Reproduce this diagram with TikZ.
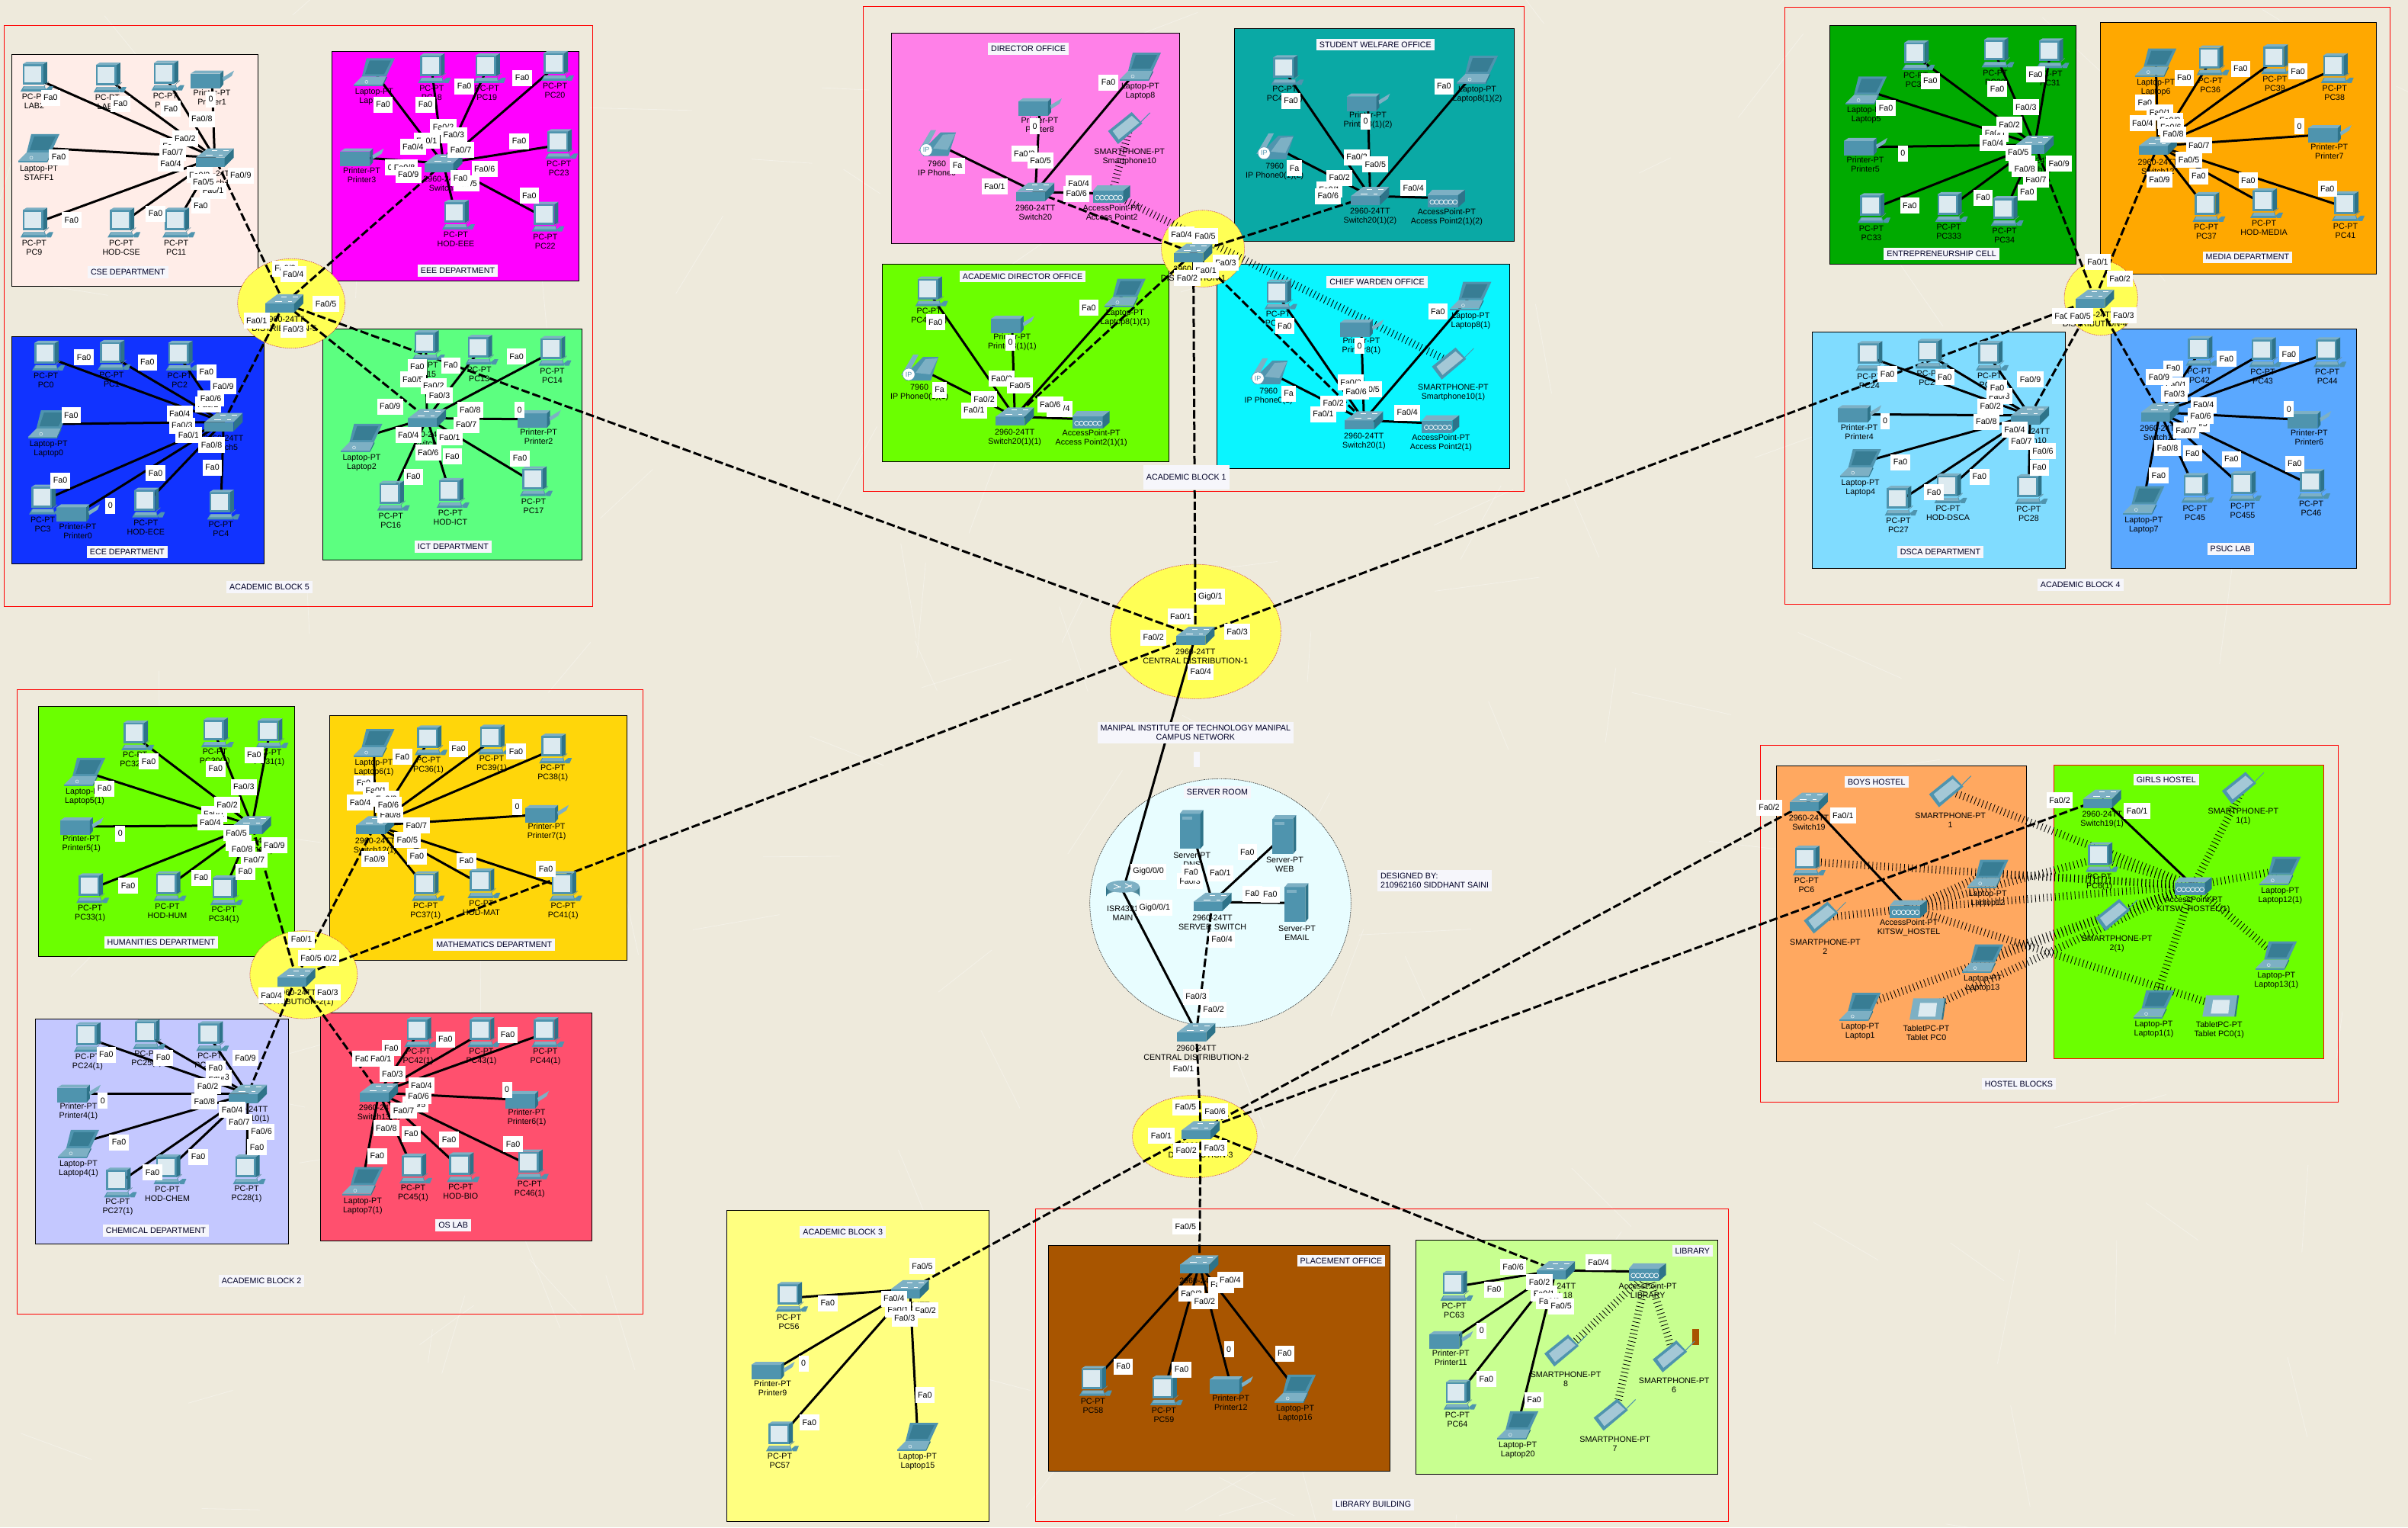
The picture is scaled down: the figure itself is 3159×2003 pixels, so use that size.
\documentclass[tikz,border=0pt]{standalone}
\usepackage{fontspec}
\setmainfont{Liberation Sans}
\definecolor{paper}{HTML}{EEEADC}
\definecolor{dmid}{HTML}{4F94AE}
\definecolor{dlight}{HTML}{7DB0C4}
\definecolor{ddark}{HTML}{2E7389}
\definecolor{dscreen}{HTML}{DCEAF0}
\definecolor{ttlbox}{HTML}{F6F6FB}
\definecolor{brownbar}{HTML}{A85500}
\tikzset{
 x=1pt,y=-1pt,
 devmid/.style={fill=dmid},devlight/.style={fill=dlight},devdark/.style={fill=ddark},devscr/.style={fill=dscreen},
 sollink/.style={line width=3pt,black},
 dashlink/.style={line width=3pt,black,dash pattern=on 11pt off 4pt},
 wifilink/.style={line width=10pt,black,dash pattern=on .8pt off 4.4pt},
 redgrp/.style={draw=red,line width=1pt},
 roombox/.style={line width=1pt},
 devlabel/.style={font=\fontsize{10.7}{12}\selectfont,align=center,inner sep=0pt,text=black},
 portbox/.style={fill=white,font=\fontsize{10.7}{12}\selectfont,inner xsep=3.5pt,inner ysep=0pt,minimum height=21pt,text=black},
 ttl/.style={fill=ttlbox,font=\fontsize{10.7}{12.5}\selectfont,align=center,inner xsep=4pt,inner ysep=4pt,text=black!85!blue},
 ovalline/.style={draw=purple,line width=.6pt,densely dotted},
}
\newcommand\setz[4]{\gdef\ozx{#1}\gdef\ozy{#2}\gdef\ofx{#3}\gdef\ofy{#4}}
\newcount\autoc
\newcommand\grp[4]{\ifnum\passno=1 \draw[redgrp] ({\ozx+(#1)/\ofx},{\ozy+(#2)/\ofy}) rectangle ({\ozx+(#3)/\ofx},{\ozy+(#4)/\ofy});\fi}
\newcommand\room[6][black]{\ifnum\passno=1 \definecolor{tmpc}{HTML}{#2}\draw[roombox,draw=#1,fill=tmpc] ({\ozx+(#3)/\ofx},{\ozy+(#4)/\ofy}) rectangle ({\ozx+(#5)/\ofx},{\ozy+(#6)/\ofy});\fi}
\newcommand\brownrect[4]{\ifnum\passno=1 \fill[brownbar] ({\ozx+(#1)/\ofx},{\ozy+(#2)/\ofy}) rectangle ({\ozx+(#3)/\ofx},{\ozy+(#4)/\ofy});\fi}
\newcommand\ovalz[6]{\ifnum\passno=1 \definecolor{tmpc}{HTML}{#2}\draw[#1,fill=tmpc] ({\ozx+((#3)+(#5))/2/\ofx},{\ozy+((#4)+(#6))/2/\ofy}) ellipse [x radius={((#5)-(#3))/2/\ofx},y radius={((#6)-(#4))/2/\ofy}];\fi}
\newcommand\ttlb[4][]{\ifnum\passno=4 \global\advance\autoc by 1 \node[ttl,#1] (t\the\autoc) at ({\ozx+(#2)/\ofx},{\ozy+(#3)/\ofy}) {#4};\fi}
\newcommand\prt[3]{\ifnum\passno=4 \global\advance\autoc by 1 \node[portbox] (p\the\autoc) at ({\ozx+(#1)/\ofx},{\ozy+(#2)/\ofy}) {#3};\fi}
\newcommand\pF[2]{\prt{#1}{#2}{Fa0}}
\newcommand\pN[3]{\prt{#1}{#2}{Fa0/#3}}
\newcommand\pZ[2]{\prt{#1}{#2}{0}}
% icons
\newcommand\iconsw{%
 \fill[devmid] (-25,0)--(13,0)--(13,12)--(-25,12)--cycle;
 \fill[devdark] (13,0)--(25,-12)--(25,0)--(13,12)--cycle;
 \fill[devlight] (-25,0)--(-9,-12)--(25,-12)--(13,0)--cycle;
 \draw[white,line width=.7pt] (-12,-3)--(-3,-3) (5,-3)--(10,-3) (-4,-9)--(3,-9) (11,-9)--(18,-9);}
\newcommand\iconpc{%
 \fill[devmid] (-15,-18) rectangle (12,9);
 \fill[devdark] (12,-18)--(17,-21)--(17,6)--(12,9)--cycle;
 \fill[devlight] (-15,-18)--(-10,-21)--(17,-21)--(12,-18)--cycle;
 \fill[devscr] (-12.5,-15.5) rectangle (9.5,6);
 \fill[devmid] (-18,18)--(-14,11)--(14,11)--(16,18)--cycle;
 \fill[devlight] (-15,15)--(-13,11)--(13,11)--(14,15)--cycle;
 \fill[devmid] (15,15)--(20,11)--(25,11)--(22,18)--(17,18)--cycle;
 \draw[dlight!80!black,line width=.7pt] (13,11) .. controls (15,7) and (18,8) .. (19,5);}
\newcommand\iconlap{%
 \fill[devmid] (-10,-18)--(27,-18)--(16,6)--(-16,6)--cycle;
 \fill[ddark!70!dmid] (-6,-15)--(22,-15)--(13,3)--(-12,3)--cycle;
 \fill[devlight] (-16,6)--(16,6)--(11,17)--(-27,17)--cycle;
 \fill[devdark] (16,6)--(17,7)--(11,19)--(11,17)--cycle;
 \fill[devmid] (-27,17)--(11,17)--(11,19)--(-27,19)--cycle;
 \draw[dscreen,line width=.6pt] (-10,13) circle (2);}
\newcommand\iconprn{%
 \fill[devmid] (-28,-8)--(11,-8)--(11,11)--(-28,11)--cycle;
 \fill[devlight] (-28,-8)--(-22,-12)--(15,-12)--(11,-8)--cycle;
 \fill[devdark] (11,-8)--(15,-12)--(15,6)--(11,11)--cycle;
 \fill[devlight] (14,-3)--(29,-12)--(26,-5)--(15,2)--cycle;}
\newcommand\iconsrv{%
 \fill[devmid] (-16,-21) rectangle (11,25);
 \fill[devlight] (-16,-21)--(-12,-26)--(15,-26)--(11,-21)--cycle;
 \fill[devdark] (11,-21)--(15,-26)--(15,20)--(11,25)--cycle;
 \fill[devlight] (-13,-17) rectangle (0,-13);}
\newcommand\iconrtr{%
 \shade[left color=ddark,right color=ddark,middle color=dscreen] (-22,-6) -- (-22,7) arc[start angle=180,end angle=360,x radius=22,y radius=7] -- (22,-6) -- cycle;
 \fill[devlight] (0,-6) ellipse [x radius=22,y radius=8];
 \draw[white,line width=.9pt] (-12,-9)--(-3,-5) (3,-10)--(12,-5) (-12,-3)--(-3,-6) (3,-4)--(12,-8);}
\newcommand\iconap{%
 \fill[devmid] (-25,-4)--(15,-4)--(15,12)--(-25,12)--cycle;
 \fill[devlight] (-25,-4)--(-19,-11)--(24,-11)--(15,-4)--cycle;
 \fill[devdark] (15,-4)--(24,-11)--(24,4)--(15,12)--cycle;
 \foreach \q in {-19,-13,-7,-1,5,11}{\draw[white,line width=.7pt] (\q,5) ellipse [x radius=3,y radius=3];}}
\newcommand\iconsp{%
 \fill[devmid] (3,-21)--(-28,4)--(-15,21)--(17,-6)--cycle;
 \fill[dlight!70!white] (3,-16)--(-22,4)--(-14,15)--(13,-7)--cycle;
 \draw[dmid,line width=1pt] (15,-8)--(27,-20);}
\newcommand\iconph{%
 \fill[devmid] (-18,8)--(5,-15)--(25,-15)--(15,16)--(-18,16)--cycle;
 \fill[devlight] (-5,6)--(8,-12)--(24,-13)--(14,8)--cycle;
 \fill[devlight] (-24,9)--(-8,-18)--(-1,-18)--(-16,10)--cycle;
 \fill[white] (-14,8) circle (8);\draw[dmid,line width=.5pt] (-14,8) circle (8);
 \node[font=\fontsize{9}{9}\selectfont,text=dmid,inner sep=0pt] at (-14,8) {IP};}
\newcommand\icontab{%
 \fill[devlight] (-22,14)--(-17,-14)--(24,-14)--(20,14)--cycle;
 \fill[devdark] (24,-14)--(26,-14)--(22,14)--(20,14)--cycle;
 \fill[devscr] (-11,10)--(-8,-8)--(14,-8)--(12,10)--cycle;}
\def\offsw{27}\def\offpc{31}\def\offlap{33}\def\offprn{23}\def\offsrv{39}\def\offrtr{29}\def\offap{25}\def\offsp{38}\def\offph{32}\def\offtab{31}
\newcommand\dev[5]{\ifnum\passno=1 \coordinate (#2) at ({\ozx+(#3)/\ofx},{\ozy+(#4)/\ofy});\fi
 \ifnum\passno=3 \begin{scope}[shift={(#2)}]\csname icon#1\endcsname
 \node[devlabel] (#2-l) at (0,\csname off#1\endcsname) {#5};\end{scope}\fi}
\newcommand\hub[2]{\ifnum\passno=2 \foreach \d in {#2}{\draw[sollink] (#1)--(\d);}\fi}
\newcommand\dhub[2]{\ifnum\passno=2 \foreach \d in {#2}{\draw[dashlink] (#1)--(\d);}\fi}
\newcommand\wifi[2]{\ifnum\passno=2 \foreach \d in {#2}{\draw[wifilink] (#1)--(\d);}\fi}
\newcommand\allcontent{%
% ================ BLOCK 5
\setz{0}{0}{1.96}{1.96}
\grp{10}{66}{1524}{1559}
\room{FFEDE8}{30}{140}{663}{736}
\room{FF00FF}{854}{132}{1489}{722}
\room{1133FF}{30}{865}{679}{1449}
\room{5CFF80}{830}{846}{1496}{1440}
\ovalz{ovalline}{FFFF55}{611}{665}{887}{895}
\ttlb{329}{700}{CSE DEPARTMENT}\ttlb{1177}{696}{EEE DEPARTMENT}\ttlb{327}{1419}{ECE DEPARTMENT}\ttlb{1165}{1405}{ICT DEPARTMENT}\ttlb{693}{1509}{ACADEMIC BLOCK 5}
\dev{sw}{dfive}{731}{780}{2960-24TT\\DISTRIBUTION-5}
\dev{sw}{csw}{552}{405}{2960-24TT\\Switch4}
\dev{pc}{lab2}{88}{200}{PC-PT\\LAB2}\dev{pc}{lab1}{276}{202}{PC-PT\\LAB1}\dev{pc}{lab3}{425}{197}{PC-PT\\PC10}
\dev{prn}{prn1}{545}{205}{Printer-PT\\Printer1}\dev{lap}{staff1}{100}{380}{Laptop-PT\\STAFF1}
\dev{pc}{pc9}{88}{575}{PC-PT\\PC9}\dev{pc}{hodcse}{312}{575}{PC-PT\\HOD-CSE}\dev{pc}{pc11}{453}{575}{PC-PT\\PC11}
\hub{csw}{lab2,lab1,lab3,prn1,staff1,pc9,hodcse,pc11}
\pF{130}{251}\pF{310}{267}\pF{439}{280}\pZ{542}{255}\pN{519}{306}{8}\pN{445}{375}{6}\pN{476}{356}{2}\pN{444}{392}{7}\pN{439}{420}{4}\pF{151}{404}\pN{513}{450}{3}\pN{548}{490}{1}\pN{523}{468}{5}\pN{619}{451}{9}\pF{516}{529}\pF{400}{549}\pF{184}{566}
\dev{sw}{esw}{1140}{420}{2960-24TT\\Switch3}
\dev{lap}{lap3}{962}{185}{Laptop-PT\\Laptop3}\dev{pc}{pc18}{1110}{178}{PC-PT\\PC18}\dev{pc}{pc19}{1252}{178}{PC-PT\\PC19}\dev{pc}{pc20}{1427}{172}{PC-PT\\PC20}
\dev{prn}{prn3}{930}{405}{Printer-PT\\Printer3}\dev{pc}{pc23}{1437}{373}{PC-PT\\PC23}\dev{pc}{pc22}{1402}{560}{PC-PT\\PC22}\dev{pc}{hodeee}{1172}{555}{PC-PT\\HOD-EEE}
\hub{esw}{lap3,pc18,pc19,pc20,prn3,pc23,pc22,hodeee}
\pF{985}{269}\pF{1094}{269}\pF{1194}{222}\pF{1343}{200}\pN{1140}{327}{2}\pN{1097}{362}{1}\pN{1167}{347}{3}\pN{1062}{378}{4}\pN{1185}{386}{7}\pF{1335}{363}\pN{1246}{435}{6}\pZ{1003}{430}\pN{1040}{430}{8}\pN{1050}{449}{9}\pN{1200}{472}{5}\pF{1184}{458}\pF{1361}{503}
\dev{sw}{csw5}{575}{1085}{2960-24TT\\Switch5}
\dev{pc}{pc0}{118}{917}{PC-PT\\PC0}\dev{pc}{pc1}{287}{915}{PC-PT\\PC1}\dev{pc}{pc2}{462}{917}{PC-PT\\PC2}\dev{lap}{lap0}{125}{1090}{Laptop-PT\\Laptop0}
\dev{pc}{pc3}{110}{1287}{PC-PT\\PC3}\dev{prn}{prn0}{200}{1320}{Printer-PT\\Printer0}\dev{pc}{hodece}{375}{1295}{PC-PT\\HOD-ECE}\dev{pc}{pc4}{568}{1300}{PC-PT\\PC4}
\hub{csw5}{pc0,pc1,pc2,lap0,pc3,prn0,hodece,pc4}
\pF{216}{919}\pF{379}{931}\pF{531}{957}\pN{574}{993}{9}\pN{535}{1040}{2}\pN{542}{1025}{6}\pN{462}{1063}{4}\pN{468}{1094}{3}\pF{183}{1068}\pN{485}{1118}{1}\pN{544}{1144}{8}\pF{546}{1202}\pF{400}{1217}\pF{155}{1235}\pZ{284}{1300}
\dev{sw}{isw}{1098}{1075}{2960-24TT\\Switch6}
\dev{pc}{pc15}{1095}{890}{PC-PT\\PC15}\dev{pc}{pc13}{1232}{902}{PC-PT\\PC13}\dev{pc}{pc14}{1420}{905}{PC-PT\\PC14}\dev{lap}{lap2}{930}{1125}{Laptop-PT\\Laptop2}
\dev{prn}{prn2}{1385}{1078}{Printer-PT\\Printer2}\dev{pc}{pc17}{1372}{1240}{PC-PT\\PC17}\dev{pc}{hodict}{1158}{1270}{PC-PT\\HOD-ICT}\dev{pc}{pc16}{1005}{1277}{PC-PT\\PC16}
\hub{isw}{pc15,pc13,pc14,lap2,prn2,pc17,hodict,pc16}
\pF{1073}{943}\pF{1159}{939}\pF{1328}{917}\pN{1062}{976}{5}\pN{1115}{992}{2}\pN{1130}{1017}{3}\pN{1003}{1045}{9}\pN{1209}{1053}{8}\pZ{1336}{1054}\pN{1199}{1092}{7}\pN{1050}{1119}{4}\pN{1156}{1125}{1}\pN{1101}{1164}{6}\pF{1163}{1174}\pF{1337}{1178}\pF{1063}{1225}
\dhub{dfive}{csw,esw,csw5,isw}
\pN{733}{690}{2}\pN{754}{705}{4}\pN{838}{781}{5}\pN{660}{824}{1}\pN{754}{847}{3}
% ================ BLOCK 1
\setz{1120}{0}{1.742}{2.412}
\grp{22}{20}{1532}{1555}
\room{FF80E8}{86}{105}{745}{771}
\room{0AA9A5}{870}{90}{1510}{764}
\room{6BFF00}{65}{836}{721}{1460}
\room{0AF5FF}{830}{836}{1499}{1482}
\ovalz{ovalline}{FFFF55}{703}{665}{893}{908}
\ttlb{399}{155}{DIRECTOR OFFICE}\ttlb{1192}{141}{STUDENT WELFARE OFFICE}\ttlb{386}{874}{ACADEMIC DIRECTOR OFFICE}\ttlb{1196}{893}{CHIEF WARDEN OFFICE}
\ttlb[inner ysep=12pt]{760}{1510}{ACADEMIC BLOCK 1}
\dev{sw}{done}{776}{800}{2960-24TT\\DISTRIBUTION-1}
\dev{sw}{dsw}{415}{607}{2960-24TT\\Switch20}\dev{ph}{dph}{190}{455}{7960\\IP Phone0}\dev{prn}{dprn}{425}{340}{Printer-PT\\Printer8}\dev{lap}{dlap}{655}{210}{Laptop-PT\\Laptop8}\dev{sp}{dsp}{630}{405}{SMARTPHONE-PT\\Smartphone10}\dev{ap}{dap}{590}{613}{AccessPoint-PT\\Access Point2}
\hub{dsw}{dph,dprn,dlap,dap}
\wifi{dap}{dsp}
\prt{237}{524}{Fa}\pN{322}{589}{1}\pN{390}{486}{2}\pN{427}{507}{5}\pZ{414}{399}\pN{514}{581}{4}\pN{509}{613}{6}\pF{582}{261}
\dev{sw}{wsw}{1180}{620}{2960-24TT\\Switch20(1)(2)}\dev{pc}{wpc}{985}{225}{PC-PT\\PC4(1)(2)}\dev{prn}{wprn}{1175}{325}{Printer-PT\\Printer8(1)(2)}\dev{lap}{wlap}{1425}{220}{Laptop-PT\\Laptop8(1)(2)}\dev{ph}{wph}{962}{465}{7960\\IP Phone0(1)(2)}\dev{ap}{wap}{1355}{627}{AccessPoint-PT\\Access Point2(1)(2)}
\hub{wsw}{wpc,wprn,wlap,wph,wap}
\pF{999}{319}\pZ{1170}{384}\pF{1349}{273}\pN{1150}{497}{3}\pN{1192}{519}{5}\prt{1007}{533}{Fa}\pN{1110}{562}{2}\pN{1087}{600}{1}\pN{1084}{620}{6}\pN{1279}{594}{4}
\dev{sw}{asw}{368}{1318}{2960-24TT\\Switch20(1)(1)}\dev{pc}{apc}{172}{925}{PC-PT\\PC4(1)(1)}\dev{prn}{aprn}{362}{1028}{Printer-PT\\Printer8(1)(1)}\dev{lap}{alap}{620}{925}{Laptop-PT\\Laptop8(1)(1)}\dev{ph}{aph}{150}{1165}{7960\\IP Phone0(1)(1)}\dev{ap}{aap}{543}{1327}{AccessPoint-PT\\Access Point2(1)(1)}
\hub{asw}{apc,aprn,alap,aph,aap}
\pF{187}{1019}\pZ{358}{1083}\pF{537}{973}\pN{338}{1197}{3}\pN{380}{1219}{5}\prt{196}{1233}{Fa}\pN{298}{1262}{2}\pN{275}{1298}{1}\pN{470}{1293}{4}\pN{449}{1279}{6}
\dev{sw}{hsw}{1166}{1330}{2960-24TT\\Switch20(1)}\dev{pc}{hpc}{970}{935}{PC-PT\\PC4(1)}\dev{prn}{hprn}{1160}{1040}{Printer-PT\\Printer8(1)}\dev{lap}{hlap}{1410}{935}{Laptop-PT\\Laptop8(1)}\dev{ph}{hph}{948}{1177}{7960\\IP Phone0(1)}\dev{ap}{hap}{1342}{1340}{AccessPoint-PT\\Access Point2(1)}\dev{sp}{hsp}{1370}{1150}{SMARTPHONE-PT\\Smartphone10(1)}
\hub{hsw}{hpc,hprn,hlap,hph,hap}
\wifi{dap}{hsp}
\pF{985}{1031}\pZ{1156}{1095}\pF{1335}{985}\pN{1136}{1209}{3}\pN{1178}{1231}{5}\pN{1148}{1238}{6}\prt{994}{1245}{Fa}\pN{1096}{1276}{2}\pN{1073}{1310}{1}\pN{1265}{1305}{4}
\dhub{done}{dsw,wsw,asw,hsw}
\pN{749}{741}{4}\pN{803}{746}{5}\pN{850}{832}{3}\pN{805}{856}{1}\pN{762}{880}{2}
% ================ CENTRE
\setz{1380}{720}{2.613}{2.24}
\ovalz{ovalline}{FFFF55}{200}{45}{785}{440}
\ovalz{draw=black,line width=.7pt,densely dotted}{E8FDFF}{130}{675}{1025}{1405}
\dev{sw}{cone}{492}{255}{2960-24TT\\CENTRAL DISTRIBUTION-1}
\dev{srv}{dns}{480}{825}{Server-PT\\DNS}\dev{srv}{web}{798}{840}{Server-PT\\WEB}\dev{srv}{email}{840}{1040}{Server-PT\\EMAIL}
\dev{rtr}{rmain}{243}{1005}{ISR4331\\MAIN}\dev{sw}{ssw}{550}{1037}{2960-24TT\\SERVER SWITCH}\dev{sw}{ctwo}{495}{1420}{2960-24TT\\CENTRAL DISTRIBUTION-2}
\hub{rmain}{cone,ctwo}\hub{ssw}{dns,web,email}\dhub{ssw}{ctwo}\dhub{cone}{done,dfive}
\ttlb{492}{539}{MANIPAL INSTITUTE OF TECHNOLOGY MANIPAL\\CAMPUS NETWORK}
\ttlb{567}{715}{SERVER ROOM}
\ttlb[minimum width=8pt,minimum height=20pt,inner sep=0pt]{496}{619}{}
\ttlb[align=left]{1312}{974}{DESIGNED BY:\\210962160 SIDDHANT SAINI}
\prt{543}{141}{Gig0/1}\pN{441}{199}{1}\pN{348}{260}{2}\pN{635}{244}{3}\pN{510}{361}{4}
\prt{331}{948}{Gig0/0/0}\prt{352}{1055}{Gig0/0/1}\pN{473}{975}{3}\pF{477}{950}\pN{577}{952}{1}\pF{670}{890}\pF{687}{1013}\pF{748}{1015}\pN{583}{1147}{4}\pN{494}{1315}{3}\pN{554}{1353}{2}\pN{451}{1528}{1}
% ================ BOTTOM
\setz{930}{1400}{1.161}{2.613}
\ovalz{ovalline}{FFFF55}{645}{95}{835}{378}
\grp{497}{485}{1553}{1556}
\room{FFFF80}{27}{490}{427}{1556}
\room{A85500}{517}{610}{1037}{1383}
\room{C8FF90}{1077}{592}{1536}{1393}
\brownrect{1498}{895}{1508}{950}
\ttlb{204}{565}{ACADEMIC BLOCK 3}\ttlb{963}{662}{PLACEMENT OFFICE}\ttlb{1498}{628}{LIBRARY}\ttlb{1012}{1498}{LIBRARY BUILDING}
\dev{sw}{dthree}{749}{215}{2960-24TT\\DISTRIBUTION-3}
\dev{sw}{bsw}{306}{760}{2960-24TT\\Switch17}\dev{pc}{pc56}{122}{790}{PC-PT\\PC56}\dev{prn}{prn9}{97}{1040}{Printer-PT\\Printer9}\dev{pc}{pc57}{108}{1268}{PC-PT\\PC57}\dev{lap}{lap15}{318}{1265}{Laptop-PT\\Laptop15}
\hub{bsw}{pc56,prn9,pc57,lap15}
\pN{325}{680}{5}\pF{181}{808}\pN{288}{830}{1}\pN{282}{792}{4}\pN{330}{832}{2}\pN{298}{860}{3}\pZ{144}{1014}\pF{329}{1122}\pF{153}{1216}
\dev{sw}{psw}{747}{675}{2960-24TT\\Switch16}\dev{pc}{pc58}{585}{1078}{PC-PT\\PC58}\dev{pc}{pc59}{693}{1110}{PC-PT\\PC59}\dev{prn}{prn12}{795}{1090}{Printer-PT\\Printer12}\dev{lap}{lap16}{893}{1100}{Laptop-PT\\Laptop16}
\hub{psw}{pc58,pc59,prn12,lap16}
\pN{726}{544}{5}\pN{780}{745}{1}\pN{794}{727}{4}\pN{735}{775}{3}\pN{755}{800}{2}\pZ{792}{965}\pF{877}{980}\pF{631}{1025}\pF{720}{1035}
\dev{sw}{lsw}{1290}{695}{2960-24TT\\Switch18}\dev{pc}{pc63}{1135}{752}{PC-PT\\PC63}\dev{prn}{prn11}{1130}{935}{Printer-PT\\Printer11}\dev{pc}{pc64}{1140}{1125}{PC-PT\\PC64}\dev{lap}{lap20}{1232}{1225}{Laptop-PT\\Laptop20}
\dev{ap}{libap}{1430}{700}{AccessPoint-PT\\LIBRARY}\dev{sp}{sp8}{1305}{970}{SMARTPHONE-PT\\8}\dev{sp}{sp6}{1470}{990}{SMARTPHONE-PT\\6}\dev{sp}{sp7}{1380}{1190}{SMARTPHONE-PT\\7}
\hub{lsw}{pc63,prn11,pc64,lap20,libap}
\wifi{libap}{sp8,sp6,sp7}
\pN{1225}{683}{6}\pN{1355}{667}{4}\pN{1272}{775}{1}\pN{1265}{735}{2}\pN{1280}{800}{3}\pN{1298}{818}{5}\pF{1196}{761}\pZ{1177}{902}\pF{1184}{1068}\pF{1257}{1140}
\dhub{ctwo}{dthree}\dhub{dthree}{bsw,psw,lsw}
\pN{726}{136}{5}\pN{771}{150}{6}\pN{689}{233}{1}\pN{727}{285}{2}\pN{770}{275}{3}
% ================ HOSTELS
\setz{2300}{960}{1.96}{3.0}
\grp{18}{52}{1504}{1456}
\room{FFA860}{60}{133}{703}{1297}
\room[red]{6BFF00}{773}{130}{1467}{1285}
\ttlb{317}{196}{BOYS HOSTEL}\ttlb{1062}{187}{GIRLS HOSTEL}\ttlb{683}{1384}{HOSTEL BLOCKS}
\dev{sw}{bhs}{143}{275}{2960-24TT\\Switch19}\dev{sp}{bsp1}{507}{233}{SMARTPHONE-PT\\1}\dev{pc}{bpc6}{137}{510}{PC-PT\\PC6}\dev{lap}{bl12}{603}{557}{Laptop-PT\\Laptop12}\dev{ap}{bap}{400}{695}{AccessPoint-PT\\KITSW\_HOSTEL}\dev{sp}{bsp2}{185}{730}{SMARTPHONE-PT\\2}\dev{lap}{bl13}{590}{890}{Laptop-PT\\Laptop13}\dev{lap}{bl1}{275}{1080}{Laptop-PT\\Laptop1}\dev{tab}{btab}{445}{1090}{TabletPC-PT\\Tablet PC0}
\dev{sw}{ghs}{897}{263}{2960-24TT\\Switch19(1)}\dev{sp}{gsp1}{1260}{220}{SMARTPHONE-PT\\1(1)}\dev{pc}{gpc6}{890}{497}{PC-PT\\PC6(1)}\dev{ap}{gap}{1132}{605}{AccessPoint-PT\\KITSW\_HOSTEL(1)}\dev{lap}{gl12}{1355}{545}{Laptop-PT\\Laptop12(1)}\dev{sp}{gsp2}{935}{720}{SMARTPHONE-PT\\2(1)}\dev{lap}{gl13}{1345}{878}{Laptop-PT\\Laptop13(1)}\dev{lap}{gl1}{1030}{1070}{Laptop-PT\\Laptop1(1)}\dev{tab}{gtab}{1198}{1078}{TabletPC-PT\\Tablet PC0(1)}
\hub{bhs}{bap}\hub{ghs}{gap}
\wifi{gap}{bpc6,bl12,bsp1,bl13,bl1,btab,gpc6,gl12,gsp1,gsp2,gl13,gl1}
\wifi{bap}{bsp2,gpc6,gtab,gap,bl12}
\dhub{dthree}{bhs,ghs}
\pN{41}{297}{2}\pN{231}{328}{1}\pN{788}{268}{2}\pN{987}{310}{1}
% ================ BLOCK 4
\setz{2320}{0}{1.889}{1.96}
\grp{40}{19}{1541}{1554}
\room{00AA00}{152}{66}{762}{679}
\room{FFA800}{823}{58}{1507}{705}
\room{80DCFF}{109}{854}{736}{1461}
\room{5AA8FF}{849}{846}{1457}{1461}
\ovalz{ovalline}{FFFF55}{733}{670}{915}{862}
\ttlb{429}{653}{ENTREPRENEURSHIP CELL}\ttlb{1187}{661}{MEDIA DEPARTMENT}\ttlb{426}{1419}{DSCA DEPARTMENT}\ttlb{1145}{1411}{PSUC LAB}\ttlb{773}{1503}{ACADEMIC BLOCK 4}
\dev{sw}{dfour}{809}{768}{2960-24TT\\DISTRIBUTION-4}
\dev{sw}{nsw}{660}{372}{2960-24TT\\Switch11}\dev{pc}{pc32}{365}{145}{PC-PT\\PC32}\dev{pc}{pc30}{562}{138}{PC-PT\\PC30}\dev{pc}{pc31}{698}{140}{PC-PT\\PC31}\dev{lap}{lap5}{242}{232}{Laptop-PT\\Laptop5}\dev{prn}{prn5}{240}{378}{Printer-PT\\Printer5}\dev{pc}{pc33}{255}{538}{PC-PT\\PC33}\dev{pc}{pc333}{447}{535}{PC-PT\\PC333}\dev{pc}{pc34}{585}{545}{PC-PT\\PC34}
\hub{nsw}{pc32,pc30,pc31,lap5,prn5,pc33,pc333,pc34}
\pF{401}{208}\pF{567}{228}\pF{662}{192}\pF{291}{278}\pN{638}{275}{3}\pN{562}{343}{1}\pN{597}{320}{2}\pN{556}{367}{4}\pZ{333}{394}\pN{628}{420}{6}\pN{619}{392}{5}\pN{720}{420}{9}\pN{663}{461}{7}\pN{635}{435}{8}\pF{641}{494}\pF{532}{508}\pF{350}{529}
\dev{sw}{msw}{965}{375}{2960-24TT\\Switch12}\dev{lap}{lap6}{960}{160}{Laptop-PT\\Laptop6}\dev{pc}{pc36}{1095}{158}{PC-PT\\PC36}\dev{pc}{pc39}{1255}{155}{PC-PT\\PC39}\dev{pc}{pc38}{1403}{178}{PC-PT\\PC38}\dev{prn}{prn7}{1390}{345}{Printer-PT\\Printer7}\dev{pc}{pc37}{1085}{535}{PC-PT\\PC37}\dev{pc}{hodmed}{1228}{525}{PC-PT\\HOD-MEDIA}\dev{pc}{pc41}{1430}{533}{PC-PT\\PC41}
\hub{msw}{lap6,pc36,pc39,pc38,prn7,pc37,hodmed,pc41}
\pF{1030}{200}\pF{1170}{177}\pF{1312}{184}\pF{933}{264}\pN{970}{290}{1}\pN{995}{310}{2}\pN{927}{316}{4}\pN{997}{327}{6}\pN{1003}{345}{8}\pZ{1316}{325}\pN{1067}{374}{7}\pN{1042}{411}{5}\pN{969}{462}{9}\pF{1066}{453}\pF{1189}{464}\pF{1385}{486}
\dev{sw}{ssw4}{648}{1068}{2960-24TT\\Switch10}\dev{pc}{pc24}{250}{918}{PC-PT\\PC24}\dev{pc}{pc25}{398}{912}{PC-PT\\PC25}\dev{pc}{pc26}{548}{917}{PC-PT\\PC26}\dev{prn}{prn4}{225}{1065}{Printer-PT\\Printer4}\dev{lap}{lap4}{228}{1190}{Laptop-PT\\Laptop4}\dev{pc}{pc27}{322}{1290}{PC-PT\\PC27}\dev{pc}{hoddsca}{445}{1258}{PC-PT\\HOD-DSCA}\dev{pc}{pc28}{645}{1260}{PC-PT\\PC28}
\hub{ssw4}{pc24,pc25,pc26,prn4,lap4,pc27,hoddsca,pc28}
\pF{295}{962}\pF{437}{970}\pN{649}{976}{9}\pN{572}{1019}{3}\pF{567}{997}\pN{550}{1045}{2}\pN{540}{1084}{8}\pZ{289}{1082}\pN{610}{1105}{4}\pN{627}{1135}{7}\pN{680}{1160}{6}\pF{671}{1202}\pF{327}{1188}\pF{523}{1225}\pF{410}{1266}
\dev{sw}{usw}{970}{1060}{2960-24TT\\Switch13}\dev{pc}{pc42}{1068}{905}{PC-PT\\PC42}\dev{pc}{pc43}{1225}{908}{PC-PT\\PC43}\dev{pc}{pc44}{1385}{908}{PC-PT\\PC44}\dev{prn}{prn6}{1340}{1080}{Printer-PT\\Printer6}\dev{pc}{pc46}{1345}{1247}{PC-PT\\PC46}\dev{pc}{pc455}{1175}{1252}{PC-PT\\PC455}\dev{pc}{pc45}{1057}{1257}{PC-PT\\PC45}\dev{lap}{lap7}{930}{1285}{Laptop-PT\\Laptop7}
\hub{usw}{pc42,pc43,pc44,prn6,pc46,pc455,pc45,lap7}
\pF{1003}{947}\pF{1135}{923}\pF{1290}{911}\pN{1010}{990}{1}\pN{968}{970}{9}\pN{1006}{1012}{3}\pN{1078}{1041}{4}\pN{1062}{1090}{5}\pN{1071}{1070}{6}\pZ{1290}{1052}\pN{1035}{1107}{7}\pN{989}{1152}{8}\pF{1051}{1166}\pF{1147}{1180}\pF{1304}{1192}\pF{967}{1223}
\dhub{dfour}{nsw,msw,ssw4,usw,cone}
\pN{816}{674}{1}\pN{871}{716}{2}\pN{735}{812}{4}\pN{773}{813}{5}\pN{880}{811}{3}
% ================ BLOCK 2
\setz{0}{890}{1.845}{1.845}
\grp{42}{26}{1556}{1537}
\room{6BFF00}{93}{67}{713}{673}
\room{FFD60A}{798}{90}{1517}{682}
\room{C4C8FF}{86}{824}{698}{1368}
\room{FF506E}{776}{809}{1432}{1360}
\ovalz{ovalline}{FFFF55}{605}{610}{865}{823}
\ttlb{390}{638}{HUMANITIES DEPARTMENT}\ttlb{1196}{644}{MATHEMATICS DEPARTMENT}\ttlb{377}{1336}{CHEMICAL DEPARTMENT}\ttlb{1097}{1323}{OS LAB}\ttlb{633}{1458}{ACADEMIC BLOCK 2}
\dev{sw}{dtwo}{717}{723}{2960-24TT\\DISTRIBUTION-2(1)}
\dev{sw}{qsw}{610}{355}{2960-24TT\\Switch11(1)}\dev{pc}{qa}{327}{140}{PC-PT\\PC32(1)}\dev{pc}{qb}{520}{133}{PC-PT\\PC30(1)}\dev{pc}{qc}{652}{135}{PC-PT\\PC31(1)}\dev{lap}{qd}{205}{225}{Laptop-PT\\Laptop5(1)}\dev{prn}{qe}{197}{358}{Printer-PT\\Printer5(1)}\dev{pc}{qf}{218}{510}{PC-PT\\PC33(1)}\dev{pc}{qg}{405}{505}{PC-PT\\HOD-HUM}\dev{pc}{qh}{542}{515}{PC-PT\\PC34(1)}
\hub{qsw}{qa,qb,qc,qd,qe,qf,qg,qh}
\pF{360}{200}\pF{522}{218}\pF{615}{185}\pF{253}{266}\pN{590}{262}{3}\pN{518}{327}{1}\pN{550}{305}{2}\pN{509}{348}{4}\pZ{291}{375}\pN{578}{398}{6}\pN{572}{373}{5}\pN{664}{403}{9}\pN{615}{438}{7}\pN{586}{413}{8}\pF{594}{467}\pF{487}{482}\pF{310}{501}
\dev{sw}{rsw}{908}{355}{2960-24TT\\Switch12(1)}\dev{lap}{ra}{905}{155}{Laptop-PT\\Laptop6(1)}\dev{pc}{rb}{1037}{152}{PC-PT\\PC36(1)}\dev{pc}{rc}{1190}{150}{PC-PT\\PC39(1)}\dev{pc}{rd}{1338}{172}{PC-PT\\PC38(1)}\dev{prn}{re}{1323}{328}{Printer-PT\\Printer7(1)}\dev{pc}{rf}{1030}{505}{PC-PT\\PC37(1)}\dev{pc}{rg}{1165}{498}{PC-PT\\HOD-MAT}\dev{pc}{rh}{1363}{505}{PC-PT\\PC41(1)}
\hub{rsw}{ra,rb,rc,rd,re,rf,rg,rh}
\pF{974}{190}\pF{1110}{170}\pF{1249}{177}\pF{880}{253}\pN{910}{270}{1}\pN{935}{290}{2}\pN{872}{300}{4}\pN{945}{330}{8}\pN{940}{306}{6}\pZ{1252}{310}\pN{1008}{356}{7}\pN{986}{390}{5}\pN{907}{437}{9}\pF{1009}{430}\pF{1129}{441}\pF{1321}{461}
\dev{sw}{vsw}{600}{1005}{2960-24TT\\Switch10(1)}\dev{pc}{va}{212}{870}{PC-PT\\PC24(1)}\dev{pc}{vb}{355}{863}{PC-PT\\PC25(1)}\dev{pc}{vc}{508}{868}{PC-PT\\PC26(1)}\dev{prn}{vd}{190}{1005}{Printer-PT\\Printer4(1)}\dev{lap}{ve}{190}{1125}{Laptop-PT\\Laptop4(1)}\dev{pc}{vf}{285}{1222}{PC-PT\\PC27(1)}\dev{pc}{vg}{405}{1190}{PC-PT\\HOD-CHEM}\dev{pc}{vh}{597}{1190}{PC-PT\\PC28(1)}
\hub{vsw}{va,vb,vc,vd,ve,vf,vg,vh}
\pF{257}{910}\pF{395}{917}\pN{594}{918}{9}\pN{530}{965}{3}\pF{522}{943}\pN{495}{1023}{8}\pN{503}{987}{2}\pZ{249}{1022}\pN{562}{1044}{4}\pN{579}{1073}{7}\pN{633}{1096}{6}\pF{622}{1134}\pF{288}{1122}\pF{480}{1157}\pF{369}{1195}
\dev{sw}{wsw2}{917}{1002}{2960-24TT\\Switch13(1)}\dev{pc}{oa}{1012}{858}{PC-PT\\PC42(1)}\dev{pc}{ob}{1165}{858}{PC-PT\\PC43(1)}\dev{pc}{oc}{1320}{858}{PC-PT\\PC44(1)}\dev{prn}{od}{1275}{1020}{Printer-PT\\Printer6(1)}\dev{pc}{oe}{1282}{1178}{PC-PT\\PC46(1)}\dev{pc}{of}{1115}{1185}{PC-PT\\HOD-BIO}\dev{pc}{og}{1000}{1188}{PC-PT\\PC45(1)}\dev{lap}{oh}{878}{1215}{Laptop-PT\\Laptop7(1)}
\hub{wsw2}{oa,ob,oc,od,oe,of,og,oh}
\pF{947}{894}\pF{1078}{873}\pF{1229}{862}\pN{885}{920}{9}\pN{922}{920}{1}\pN{950}{956}{3}\pN{1020}{984}{4}\pN{1005}{1030}{5}\pN{1013}{1011}{6}\pZ{1227}{995}\pN{977}{1046}{7}\pN{935}{1088}{8}\pF{995}{1102}\pF{1087}{1115}\pF{1242}{1126}\pF{913}{1155}
\dhub{dtwo}{qsw,rsw,vsw,wsw2,cone}
\pN{730}{631}{1}\pN{790}{676}{2}\pN{753}{676}{5}\pN{657}{767}{4}\pN{793}{760}{3}
}
\begin{document}
\begin{tikzpicture}
\useasboundingbox (0,0) rectangle (3159,2003);
\fill[paper] (0,0) rectangle (3159,2003);
\begin{scope}
\clip (0,0) rectangle (3159,2003);
\pgfmathsetseed{7}
\foreach \i in {1,...,140}{\pgfmathsetmacro\ax{rnd*3159}\pgfmathsetmacro\ay{rnd*2003}\pgfmathsetmacro\an{rnd*360}
 \draw[white,opacity=.35,line width=.8pt] (\ax,\ay) -- ++(\an:{40+rnd*120});}
\end{scope}
\def\passno{1}\allcontent
\def\passno{2}\allcontent
\def\passno{3}\allcontent
\def\passno{4}\allcontent
\end{tikzpicture}
\end{document}
